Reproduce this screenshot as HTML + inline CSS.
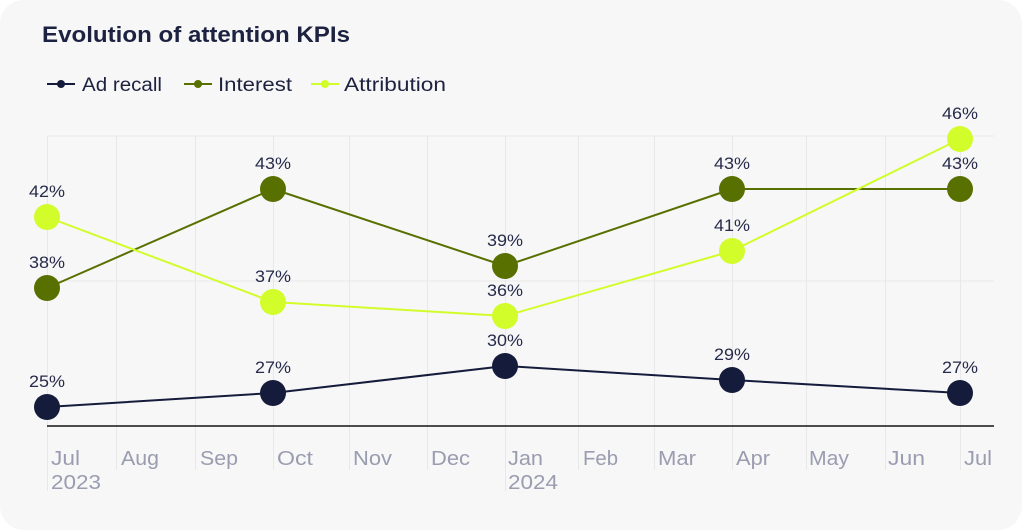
<!DOCTYPE html>
<html>
<head>
<meta charset="utf-8">
<style>
html,body{margin:0;padding:0;background:#ffffff;}
svg{display:block;}
text{font-family:"Liberation Sans",sans-serif;}
</style>
</head>
<body>
<svg width="1024" height="531" viewBox="0 0 1024 531" xmlns="http://www.w3.org/2000/svg">
  <rect x="0" y="0" width="1024" height="531" fill="#ffffff"/>
  <rect x="0" y="0" width="1022" height="530" rx="24" ry="24" fill="#f7f7f7"/>

  <!-- Title -->
  <text x="42" y="42" font-size="22" font-weight="700" fill="#1c2240" textLength="308" lengthAdjust="spacingAndGlyphs">Evolution of attention KPIs</text>

  <!-- Legend -->
  <g stroke-width="2">
    <line x1="47" y1="84" x2="75" y2="84" stroke="#151c3b"/>
    <circle cx="61" cy="84" r="4" fill="#151c3b"/>
    <line x1="184" y1="84" x2="212" y2="84" stroke="#587000"/>
    <circle cx="198" cy="84" r="4" fill="#587000"/>
    <line x1="311" y1="84" x2="339" y2="84" stroke="#d2fc2a"/>
    <circle cx="325" cy="84" r="4" fill="#d2fc2a"/>
  </g>
  <g font-size="19" fill="#1c2240">
    <text x="82" y="91" textLength="80" lengthAdjust="spacingAndGlyphs">Ad recall</text>
    <text x="218" y="91" textLength="74" lengthAdjust="spacingAndGlyphs">Interest</text>
    <text x="344" y="91" textLength="102" lengthAdjust="spacingAndGlyphs">Attribution</text>
  </g>

  <!-- Grid -->
  <g stroke="#e8e8e8" stroke-width="1">
    <line x1="47" y1="136" x2="994" y2="136"/>
    <line x1="47" y1="281" x2="994" y2="281"/>
    <line x1="47.5" y1="136" x2="47.5" y2="491"/>
    <line x1="116.5" y1="136" x2="116.5" y2="470"/>
    <line x1="195.5" y1="136" x2="195.5" y2="470"/>
    <line x1="273.5" y1="136" x2="273.5" y2="470"/>
    <line x1="349.5" y1="136" x2="349.5" y2="470"/>
    <line x1="427.5" y1="136" x2="427.5" y2="470"/>
    <line x1="505.5" y1="136" x2="505.5" y2="491"/>
    <line x1="578.5" y1="136" x2="578.5" y2="470"/>
    <line x1="654.5" y1="136" x2="654.5" y2="470"/>
    <line x1="732.5" y1="136" x2="732.5" y2="470"/>
    <line x1="806.5" y1="136" x2="806.5" y2="470"/>
    <line x1="885.5" y1="136" x2="885.5" y2="470"/>
    <line x1="960.5" y1="136" x2="960.5" y2="470"/>
  </g>
  <line x1="47" y1="426" x2="994" y2="426" stroke="#141414" stroke-width="1.6"/>

  <!-- X labels -->
  <g font-size="20" fill="#9a9cb0">
    <text x="51" y="465" textLength="29" lengthAdjust="spacingAndGlyphs">Jul</text>
    <text x="51" y="489" textLength="50" lengthAdjust="spacingAndGlyphs">2023</text>
    <text x="121" y="465" textLength="38" lengthAdjust="spacingAndGlyphs">Aug</text>
    <text x="200" y="465" textLength="38" lengthAdjust="spacingAndGlyphs">Sep</text>
    <text x="277" y="465" textLength="36" lengthAdjust="spacingAndGlyphs">Oct</text>
    <text x="353" y="465" textLength="39" lengthAdjust="spacingAndGlyphs">Nov</text>
    <text x="431" y="465" textLength="39" lengthAdjust="spacingAndGlyphs">Dec</text>
    <text x="508" y="465" textLength="35" lengthAdjust="spacingAndGlyphs">Jan</text>
    <text x="508" y="489" textLength="50" lengthAdjust="spacingAndGlyphs">2024</text>
    <text x="583" y="465" textLength="35" lengthAdjust="spacingAndGlyphs">Feb</text>
    <text x="658" y="465" textLength="38" lengthAdjust="spacingAndGlyphs">Mar</text>
    <text x="736" y="465" textLength="34" lengthAdjust="spacingAndGlyphs">Apr</text>
    <text x="809" y="465" textLength="40" lengthAdjust="spacingAndGlyphs">May</text>
    <text x="888" y="465" textLength="37" lengthAdjust="spacingAndGlyphs">Jun</text>
    <text x="964" y="465" textLength="28" lengthAdjust="spacingAndGlyphs">Jul</text>
  </g>

  <!-- Series lines -->
  <g fill="none" stroke-width="2" stroke-linejoin="round">
    <polyline stroke="#151c3b" points="47,407 273,393 505,366 732,380 960,393"/>
    <polyline stroke="#587000" points="47,288 273,189 505,266 732,189 960,189"/>
    <polyline stroke="#d2fc2a" points="47,217 273,302 505,316 732,251 960,139"/>
  </g>

  <!-- Dots -->
  <g fill="#151c3b">
    <circle cx="47" cy="407" r="13"/>
    <circle cx="273" cy="393" r="13"/>
    <circle cx="505" cy="366" r="13"/>
    <circle cx="732" cy="380" r="13"/>
    <circle cx="960" cy="393" r="13"/>
  </g>
  <g fill="#587000">
    <circle cx="47" cy="288" r="13"/>
    <circle cx="273" cy="189" r="13"/>
    <circle cx="505" cy="266" r="13"/>
    <circle cx="732" cy="189" r="13"/>
    <circle cx="960" cy="189" r="13"/>
  </g>
  <g fill="#d2fc2a">
    <circle cx="47" cy="217" r="13"/>
    <circle cx="273" cy="302" r="13"/>
    <circle cx="505" cy="316" r="13"/>
    <circle cx="732" cy="251" r="13"/>
    <circle cx="960" cy="139" r="13"/>
  </g>

  <!-- Data labels -->
  <g font-size="17" fill="#262b4a" text-anchor="middle">
    <text x="47" y="387" textLength="36" lengthAdjust="spacingAndGlyphs">25%</text>
    <text x="273" y="373" textLength="36" lengthAdjust="spacingAndGlyphs">27%</text>
    <text x="505" y="346" textLength="36" lengthAdjust="spacingAndGlyphs">30%</text>
    <text x="732" y="360" textLength="36" lengthAdjust="spacingAndGlyphs">29%</text>
    <text x="960" y="373" textLength="36" lengthAdjust="spacingAndGlyphs">27%</text>

    <text x="47" y="268" textLength="36" lengthAdjust="spacingAndGlyphs">38%</text>
    <text x="273" y="169" textLength="36" lengthAdjust="spacingAndGlyphs">43%</text>
    <text x="505" y="246" textLength="36" lengthAdjust="spacingAndGlyphs">39%</text>
    <text x="732" y="169" textLength="36" lengthAdjust="spacingAndGlyphs">43%</text>
    <text x="960" y="169" textLength="36" lengthAdjust="spacingAndGlyphs">43%</text>

    <text x="47" y="197" textLength="36" lengthAdjust="spacingAndGlyphs">42%</text>
    <text x="273" y="282" textLength="36" lengthAdjust="spacingAndGlyphs">37%</text>
    <text x="505" y="296" textLength="36" lengthAdjust="spacingAndGlyphs">36%</text>
    <text x="732" y="231" textLength="36" lengthAdjust="spacingAndGlyphs">41%</text>
    <text x="960" y="119" textLength="36" lengthAdjust="spacingAndGlyphs">46%</text>
  </g>
</svg>
</body>
</html>
